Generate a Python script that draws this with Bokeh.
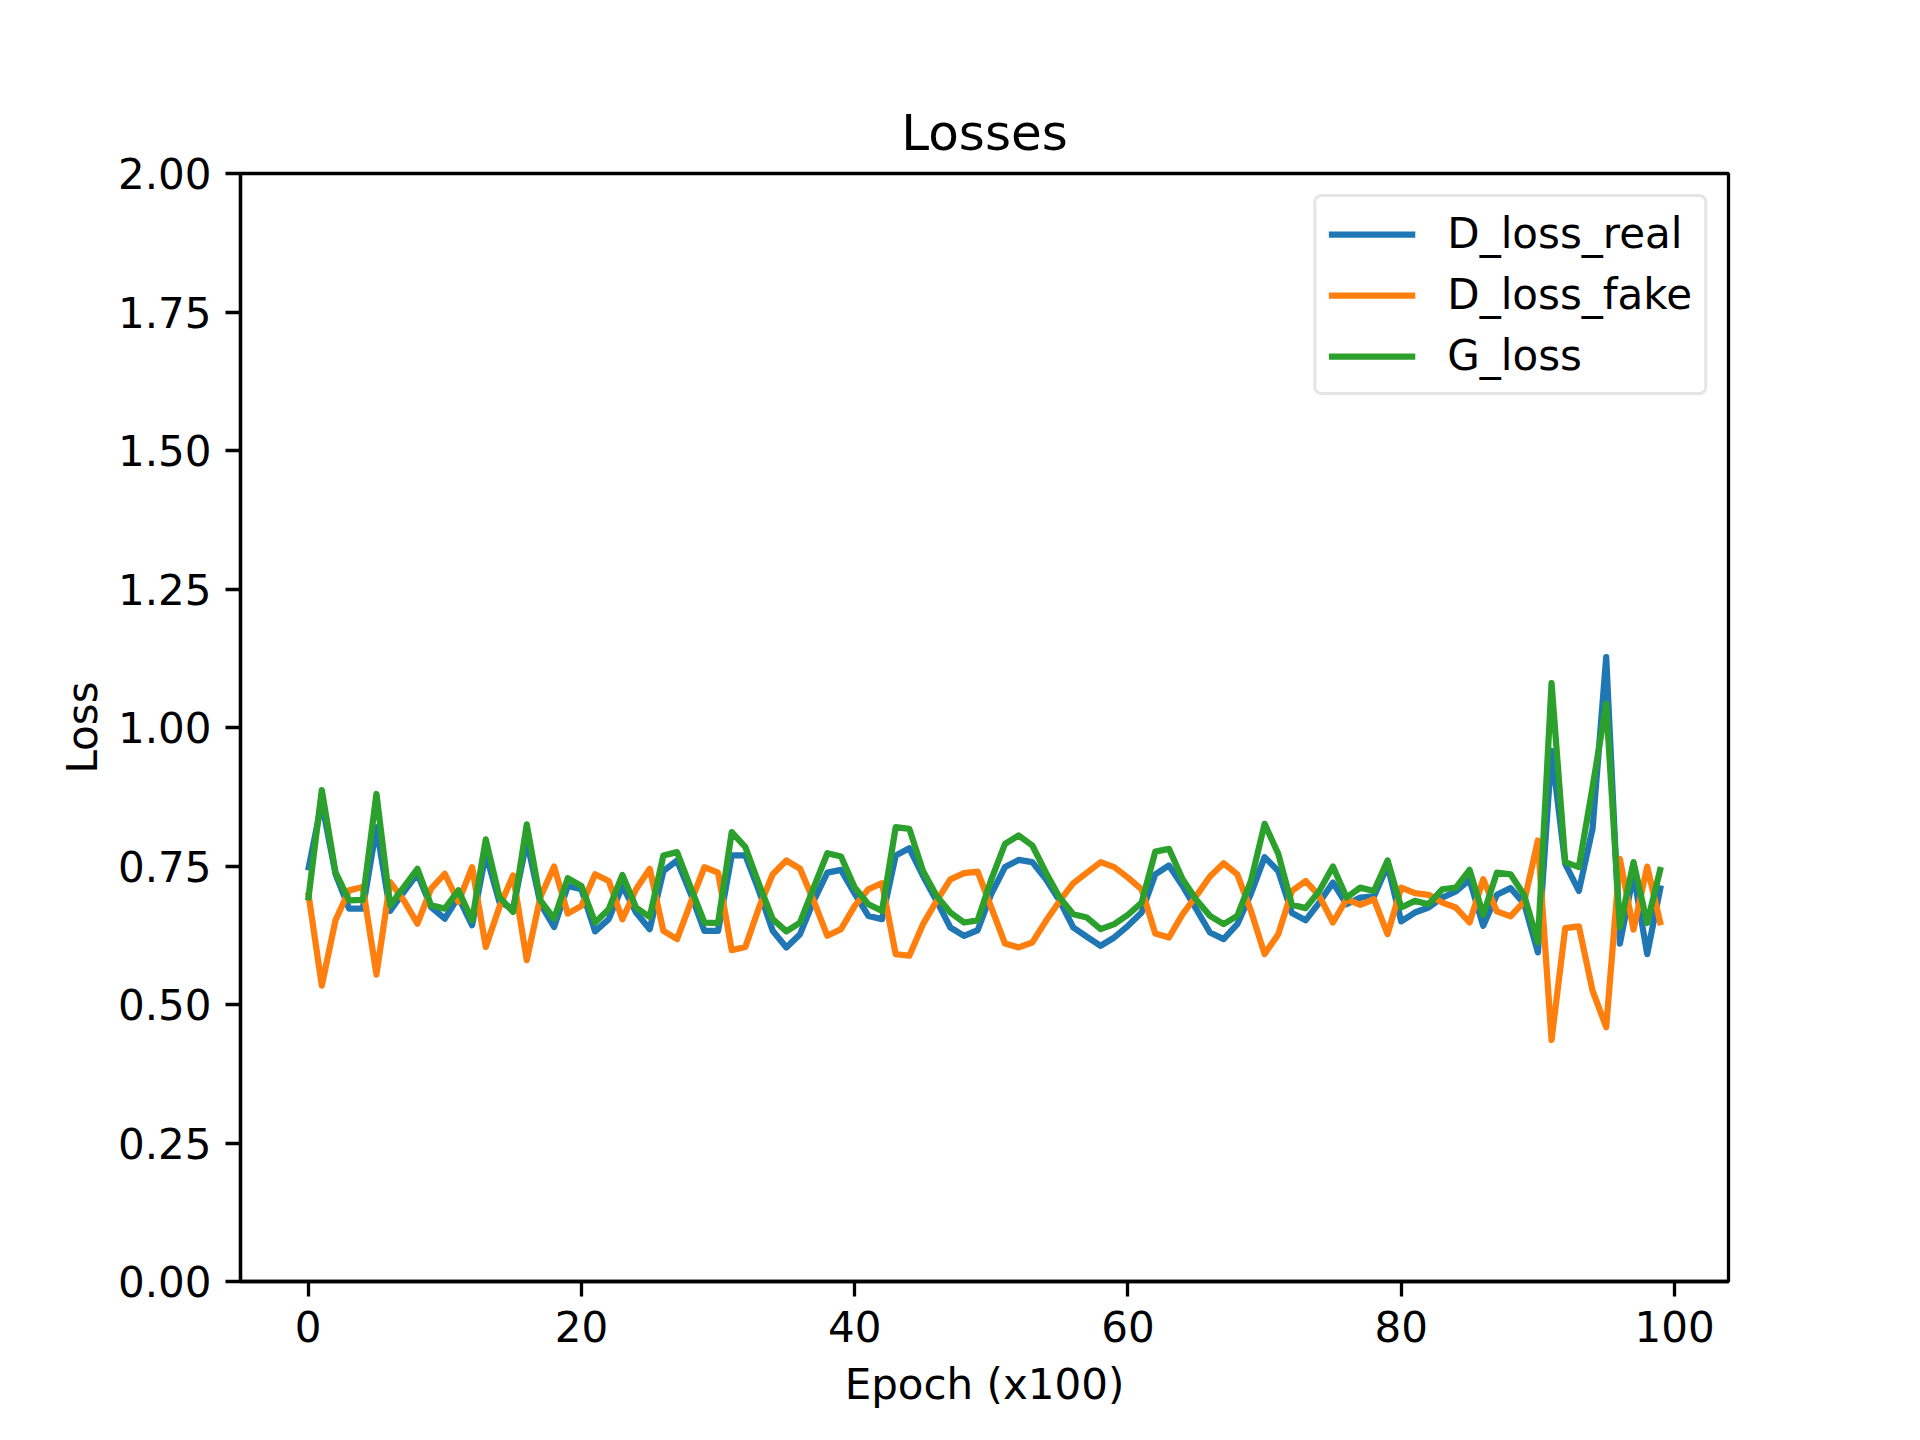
from bokeh.plotting import figure
from bokeh.models import Range1d, FixedTicker, PrintfTickFormatter
from bokeh.embed import file_html
from bokeh.resources import INLINE

# Loss values per epoch (x100)
epochs = list(range(100))

D_loss_real = [
    0.742, 0.865, 0.736, 0.673, 0.673, 0.820, 0.669, 0.703, 0.736, 0.676,
    0.655, 0.694, 0.643, 0.772, 0.685, 0.673, 0.796, 0.682, 0.640, 0.714,
    0.708, 0.632, 0.654, 0.714, 0.666, 0.636, 0.741, 0.760, 0.700, 0.633,
    0.633, 0.769, 0.769, 0.705, 0.633, 0.603, 0.627, 0.687, 0.738, 0.743,
    0.700, 0.660, 0.654, 0.769, 0.782, 0.732, 0.687, 0.639, 0.624, 0.634,
    0.700, 0.748, 0.761, 0.757, 0.726, 0.687, 0.639, 0.622, 0.606, 0.621,
    0.642, 0.666, 0.735, 0.751, 0.714, 0.672, 0.630, 0.618, 0.645, 0.700,
    0.766, 0.741, 0.665, 0.652, 0.684, 0.720, 0.681, 0.693, 0.695, 0.751,
    0.650, 0.666, 0.675, 0.693, 0.704, 0.725, 0.642, 0.698, 0.710, 0.682,
    0.594, 0.958, 0.754, 0.705, 0.817, 1.127, 0.610, 0.735, 0.591, 0.715,
]

D_loss_fake = [
    0.703, 0.534, 0.652, 0.706, 0.712, 0.554, 0.721, 0.688, 0.646, 0.709,
    0.736, 0.685, 0.748, 0.604, 0.676, 0.733, 0.580, 0.694, 0.749, 0.664,
    0.678, 0.735, 0.723, 0.654, 0.708, 0.745, 0.633, 0.618, 0.684, 0.748,
    0.738, 0.598, 0.604, 0.675, 0.735, 0.760, 0.745, 0.687, 0.624, 0.636,
    0.678, 0.708, 0.719, 0.591, 0.588, 0.645, 0.687, 0.726, 0.737, 0.740,
    0.675, 0.610, 0.603, 0.612, 0.651, 0.687, 0.719, 0.738, 0.757, 0.748,
    0.729, 0.708, 0.628, 0.621, 0.663, 0.696, 0.731, 0.755, 0.735, 0.669,
    0.591, 0.627, 0.705, 0.723, 0.696, 0.648, 0.690, 0.680, 0.690, 0.627,
    0.711, 0.701, 0.698, 0.684, 0.675, 0.648, 0.726, 0.668, 0.659, 0.686,
    0.796, 0.436, 0.638, 0.641, 0.525, 0.459, 0.763, 0.635, 0.749, 0.643,
]

G_loss = [
    0.688, 0.887, 0.739, 0.688, 0.689, 0.880, 0.679, 0.712, 0.745, 0.679,
    0.673, 0.706, 0.652, 0.798, 0.694, 0.667, 0.825, 0.688, 0.655, 0.728,
    0.714, 0.648, 0.672, 0.734, 0.675, 0.658, 0.769, 0.775, 0.711, 0.648,
    0.647, 0.811, 0.784, 0.717, 0.654, 0.632, 0.648, 0.711, 0.773, 0.767,
    0.711, 0.681, 0.669, 0.820, 0.817, 0.741, 0.696, 0.666, 0.648, 0.652,
    0.726, 0.790, 0.805, 0.787, 0.738, 0.693, 0.663, 0.657, 0.636, 0.645,
    0.662, 0.684, 0.776, 0.781, 0.726, 0.689, 0.660, 0.645, 0.660, 0.723,
    0.826, 0.772, 0.680, 0.674, 0.705, 0.749, 0.693, 0.711, 0.705, 0.760,
    0.675, 0.687, 0.681, 0.708, 0.711, 0.743, 0.662, 0.738, 0.735, 0.697,
    0.612, 1.080, 0.757, 0.748, 0.892, 1.043, 0.640, 0.757, 0.647, 0.748,
]

x_ticks = [0, 20, 40, 60, 80, 100]
y_ticks = [0.0, 0.25, 0.5, 0.75, 1.0, 1.25, 1.5, 1.75, 2.0]

series = [
    ("D_loss_real", D_loss_real, "#1f77b4"),
    ("D_loss_fake", D_loss_fake, "#ff7f0e"),
    ("G_loss", G_loss, "#2ca02c"),
]

FONT = "DejaVu Sans"

p = figure(
    width=1904, height=1424,
    x_range=Range1d(-4.95, 103.95), y_range=Range1d(0, 2),
    title="Losses",
    output_backend="svg", toolbar_location=None,
    min_border_left=240, min_border_right=176,
    min_border_top=173, min_border_bottom=143,
)

for name, vals, color in series:
    p.line(epochs, vals, line_color=color, line_width=6.25,
           line_join="round", legend_label=name)

# title
p.title.align = "center"
p.title.text_font = FONT
p.title.text_font_size = "50px"
p.title.text_font_style = "normal"
p.title.text_color = "black"
p.title.standoff = 24

# axes
p.xaxis.ticker = FixedTicker(ticks=x_ticks)
p.yaxis.ticker = FixedTicker(ticks=y_ticks)
p.yaxis.formatter = PrintfTickFormatter(format="%.2f")
p.xaxis.axis_label = "Epoch (x100)"
p.yaxis.axis_label = "Loss"
for ax in (p.xaxis, p.yaxis):
    ax.axis_line_width = 3.3
    ax.axis_line_color = "black"
    ax.major_tick_line_width = 3.3
    ax.major_tick_line_color = "black"
    ax.major_tick_out = 15
    ax.major_tick_in = 0
    ax.minor_tick_line_color = None
    ax.major_label_text_font = FONT
    ax.major_label_text_font_size = "42px"
    ax.major_label_text_color = "black"
    ax.major_label_standoff = 14
    ax.axis_label_text_font = FONT
    ax.axis_label_text_font_size = "42px"
    ax.axis_label_text_font_style = "normal"
    ax.axis_label_text_color = "black"
p.xaxis.axis_label_standoff = 15
p.yaxis.axis_label_standoff = 8

p.grid.grid_line_color = None
p.outline_line_color = "black"
p.outline_line_width = 3.3
p.background_fill_color = "white"
p.border_fill_color = "white"

# legend
leg = p.legend[0]
leg.location = "top_right"
leg.margin = 21
leg.padding = 12
leg.spacing = 12
leg.label_text_font = FONT
leg.label_text_font_size = "42px"
leg.label_text_color = "black"
leg.label_height = 42
leg.glyph_height = 42
leg.glyph_width = 87
leg.label_standoff = 32
leg.border_line_color = "#cccccc"
leg.border_line_width = 3.3
leg.background_fill_alpha = 0.8
if "border_radius" in leg.properties():
    leg.border_radius = 8

open("out.html", "w").write(file_html(p, INLINE))
